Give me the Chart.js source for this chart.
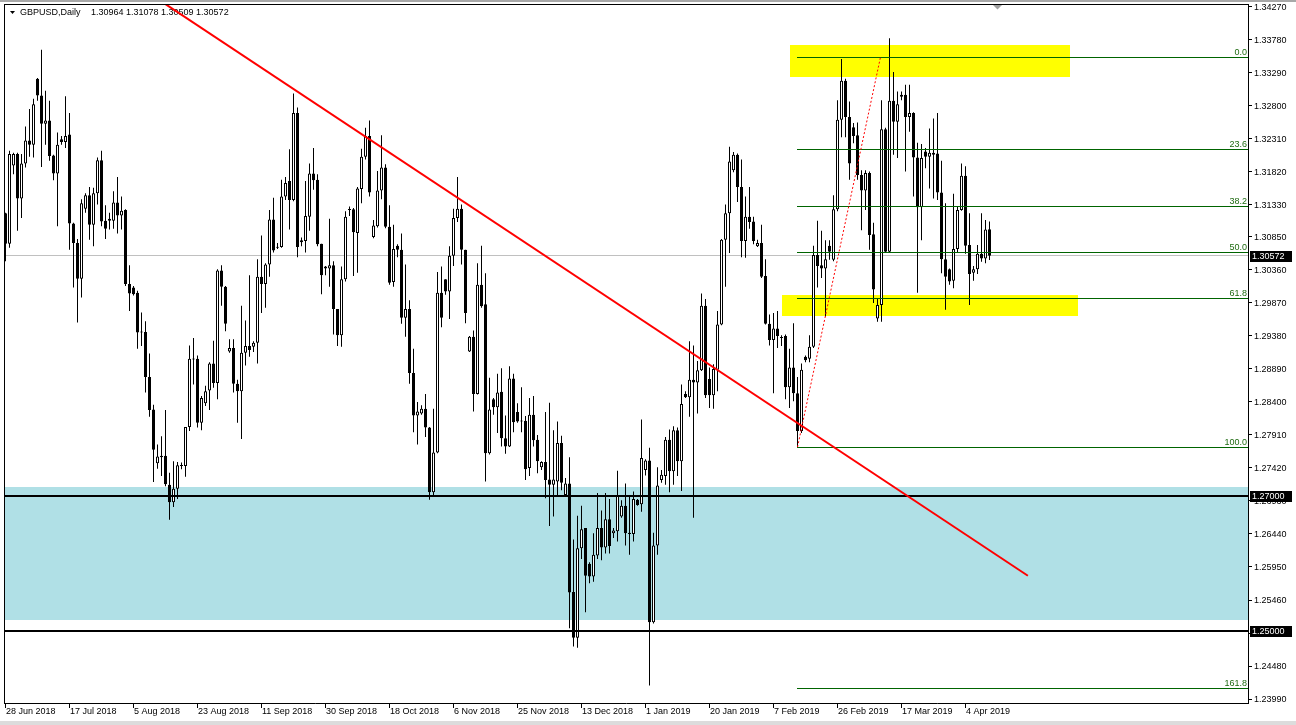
<!DOCTYPE html>
<html>
<head>
<meta charset="utf-8">
<title>GBPUSD,Daily</title>
<script src="https://cdn.jsdelivr.net/npm/chart.js@4.4.1/dist/chart.umd.min.js"></script>
<style>
html,body{margin:0;padding:0;background:#fff;}
#wrap{width:1296px;height:725px;position:relative;}
</style>
</head>
<body>
<div id="wrap"><canvas id="chart"></canvas></div>
<script>
// Daily candles, 28 Jun 2018 .. 10 Apr 2019 (one bar per trading day incl. Sunday bars)
const opens = [
  1.3120,1.3075,1.3191,1.3208,1.3142,1.3194,1.3228,1.3222,1.3320,1.3295,
  1.3253,1.3258,1.3206,1.3179,1.3230,1.3226,1.3237,1.3105,1.3076,1.3023,
  1.3127,1.3147,1.3103,1.3150,1.3199,1.3109,1.3112,1.3109,1.3136,1.3117,
  1.3125,1.3015,1.3010,1.3002,1.2944,1.2944,1.2877,1.2829,1.2749,1.2760,
  1.2760,1.2717,1.2691,1.2711,1.2745,1.2745,1.2803,1.2904,1.2904,1.2809,
  1.2838,1.2857,1.2897,1.2868,1.3035,1.3011,1.2915,1.2920,1.2867,1.2856,
  1.2913,1.2923,1.2922,1.2928,1.3026,1.3015,1.3044,1.3111,1.3070,1.3070,
  1.3145,1.3168,1.3140,1.3269,1.3080,1.3079,1.3115,1.3179,1.3170,1.3075,
  1.3041,1.3038,1.3043,1.2978,1.2939,1.3022,1.3125,1.3126,1.3091,1.3156,
  1.3204,1.3235,1.3085,1.3101,1.3154,1.3188,1.3100,1.3018,1.3072,1.3066,
  1.2965,1.2978,1.2883,1.2820,1.2823,1.2830,1.2802,1.2706,1.2765,1.3002,
  1.3022,1.3004,1.3057,1.3113,1.3127,1.3066,1.2915,1.2937,1.2852,1.3014,
  1.2985,1.2764,1.2844,1.2832,1.2855,1.2786,1.2774,1.2875,1.2825,1.2812,
  1.2812,1.2742,1.2821,1.2784,1.2743,1.2751,1.2725,1.2717,1.2722,1.2779,
  1.2702,1.2719,1.2558,1.2490,1.2623,1.2653,1.2600,1.2581,1.2612,1.2653,
  1.2624,1.2666,1.2645,1.2648,1.2670,1.2686,1.2646,1.2644,1.2695,1.2688,
  1.2739,1.2753,1.2513,1.2627,1.2724,1.2730,1.2784,1.2737,1.2798,1.2752,
  1.2852,1.2847,1.2873,1.2869,1.2887,1.2983,1.2874,1.2850,1.2888,1.2955,
  1.3081,1.3120,1.3184,1.3207,1.3159,1.3079,1.3115,1.3108,1.3071,1.3076,
  1.3027,1.2956,1.2932,1.2949,1.2936,1.2938,1.2862,1.2891,1.2853,1.2797,
  1.2907,1.2904,1.2922,1.3058,1.3043,1.3038,1.3072,1.3051,1.3126,1.3259,
  1.3317,1.3263,1.3248,1.3236,1.3177,1.3154,1.3180,1.3089,1.2964,1.2984,
  1.3245,1.3063,1.3287,1.3256,1.3296,1.3296,1.3263,1.3269,1.3203,1.3129,
  1.3212,1.3204,1.3210,1.3209,1.3151,1.3052,1.3037,1.3020,1.3067,1.3125,
  1.3176,1.3073,1.3032,1.3037,1.3060,1.3053,1.30964
];
const highs = [
  1.3121,1.3213,1.3210,1.3210,1.3208,1.3249,1.3275,1.3290,1.3321,1.3363,
  1.3302,1.3287,1.3207,1.3240,1.3235,1.3294,1.3269,1.3106,1.3082,1.3141,
  1.3150,1.3159,1.3158,1.3203,1.3213,1.3132,1.3121,1.3153,1.3174,1.3145,
  1.3126,1.3043,1.3012,1.3005,1.2973,1.2960,1.2912,1.2836,1.2777,1.2789,
  1.2828,1.2735,1.2752,1.2751,1.2750,1.2803,1.2924,1.2935,1.2909,1.2849,
  1.2864,1.2899,1.2931,1.3037,1.3043,1.3012,1.2933,1.2933,1.2873,1.2983,
  1.2961,1.3028,1.2930,1.3052,1.3087,1.3046,1.3125,1.3143,1.3076,1.3170,
  1.3174,1.3215,1.3298,1.3277,1.3084,1.3168,1.3194,1.3217,1.3178,1.3075,
  1.3042,1.3112,1.3049,1.2978,1.3041,1.3123,1.3130,1.3128,1.3159,1.3216,
  1.3247,1.3258,1.3110,1.3183,1.3236,1.3193,1.3132,1.3103,1.3074,1.3090,
  1.3044,1.2991,1.2919,1.2840,1.2835,1.2852,1.2803,1.2830,1.3033,1.3041,
  1.3022,1.3071,1.3127,1.3174,1.3133,1.3066,1.2938,1.2946,1.3046,1.3072,
  1.3031,1.2876,1.2846,1.2882,1.2890,1.2820,1.2893,1.2882,1.2838,1.2862,
  1.2819,1.2846,1.2849,1.2791,1.2752,1.2825,1.2839,1.2798,1.2811,1.2790,
  1.2727,1.2758,1.2636,1.2671,1.2686,1.2653,1.2602,1.2645,1.2705,1.2679,
  1.2705,1.2696,1.2653,1.2738,1.2694,1.2719,1.2701,1.2707,1.2696,1.2814,
  1.2755,1.2772,1.2646,1.2743,1.2739,1.2788,1.2799,1.2804,1.2802,1.2866,
  1.2856,1.2930,1.2924,1.2901,1.3001,1.2993,1.2891,1.2896,1.2975,1.3082,
  1.3133,1.3219,1.3211,1.3209,1.3200,1.3145,1.3159,1.3115,1.3081,1.3103,
  1.3052,1.2970,1.2972,1.2975,1.2939,1.2940,1.2919,1.2957,1.2877,1.2897,
  1.2909,1.2939,1.3072,1.3109,1.3094,1.3080,1.3080,1.3147,1.3288,1.3349,
  1.3320,1.3286,1.3254,1.3255,1.3184,1.3184,1.3182,1.3106,1.2994,1.3288,
  1.3247,1.3380,1.3330,1.3301,1.3301,1.3311,1.3311,1.3270,1.3225,1.3223,
  1.3217,1.3246,1.3261,1.3269,1.3198,1.3135,1.3038,1.3149,1.3130,1.3194,
  1.3190,1.3120,1.3042,1.3073,1.3120,1.3110,1.31078
];
const lows = [
  1.3049,1.3069,1.3178,1.3094,1.3113,1.3188,1.3204,1.3203,1.3287,1.3189,
  1.3222,1.3198,1.3169,1.3101,1.3222,1.3217,1.3066,1.3010,1.2958,1.2995,
  1.3121,1.3081,1.3071,1.3133,1.3101,1.3082,1.3096,1.3097,1.3090,1.3096,
  1.3012,1.2975,1.2998,1.2919,1.2923,1.2854,1.2818,1.2721,1.2741,1.2730,
  1.2715,1.2665,1.2684,1.2696,1.2740,1.2729,1.2797,1.2866,1.2802,1.2798,
  1.2834,1.2828,1.2861,1.2844,1.2983,1.2945,1.2913,1.2854,1.2809,1.2785,
  1.2894,1.2907,1.2914,1.2897,1.2972,1.2980,1.3026,1.3062,1.3067,1.3069,
  1.3140,1.3096,1.3138,1.3055,1.3071,1.3062,1.3094,1.3155,1.3071,1.3000,
  1.3028,1.3011,1.2940,1.2923,1.2922,1.3019,1.3116,1.3027,1.3032,1.3135,
  1.3200,1.3145,1.3083,1.3099,1.3141,1.3098,1.3014,1.3011,1.3055,1.2956,
  1.2937,1.2867,1.2795,1.2777,1.2821,1.2788,1.2695,1.2699,1.2764,1.2951,
  1.2999,1.2963,1.3042,1.3107,1.3044,1.2957,1.2914,1.2826,1.2851,1.2980,
  1.2722,1.2762,1.2821,1.2794,1.2774,1.2763,1.2773,1.2795,1.2809,1.2795,
  1.2724,1.2730,1.2774,1.2734,1.2739,1.2697,1.2656,1.2670,1.2699,1.2709,
  1.2701,1.2504,1.2477,1.2475,1.2607,1.2528,1.2571,1.2573,1.2607,1.2605,
  1.2615,1.2615,1.2638,1.2633,1.2668,1.2627,1.2613,1.2633,1.2686,1.2677,
  1.2731,1.2419,1.2511,1.2613,1.2720,1.2717,1.2706,1.2717,1.2730,1.2708,
  1.2846,1.2818,1.2668,1.2823,1.2886,1.2846,1.2831,1.2830,1.2856,1.2954,
  1.3011,1.3061,1.3181,1.3137,1.3055,1.3054,1.3097,1.3074,1.3070,1.3024,
  1.2955,1.2924,1.2853,1.2920,1.2923,1.2844,1.2831,1.2841,1.2773,1.2794,
  1.2899,1.2899,1.2920,1.3010,1.3024,1.2967,1.3051,1.3049,1.3123,1.3233,
  1.3233,1.3170,1.3224,1.3170,1.3095,1.3125,1.3066,1.2987,1.2959,1.2959,
  1.3061,1.3061,1.3207,1.3202,1.3288,1.3182,1.3241,1.3145,1.3002,1.3080,
  1.3187,1.3157,1.3142,1.3140,1.3031,1.2977,1.3014,1.3009,1.3061,1.3124,
  1.3060,1.2984,1.3020,1.3030,1.3048,1.3046,1.30509
];
const closes = [
  1.3075,1.3208,1.3208,1.3142,1.3194,1.3228,1.3222,1.3282,1.3295,1.3253,
  1.3258,1.3205,1.3179,1.3222,1.3226,1.3235,1.3105,1.3076,1.3023,1.3135,
  1.3147,1.3103,1.3150,1.3199,1.3108,1.3097,1.3109,1.3136,1.3117,1.3124,
  1.3015,1.3001,1.3000,1.2943,1.2943,1.2877,1.2828,1.2769,1.2759,1.2758,
  1.2718,1.2691,1.2711,1.2746,1.2746,1.2803,1.2904,1.2903,1.2809,1.2846,
  1.2856,1.2897,1.2868,1.3035,1.3011,1.2956,1.2920,1.2867,1.2856,1.2913,
  1.2923,1.2917,1.2928,1.3026,1.3015,1.3044,1.3111,1.3065,1.3069,1.3145,
  1.3165,1.3140,1.3269,1.3070,1.3077,1.3116,1.3179,1.3169,1.3074,1.3028,
  1.3038,1.3043,1.2978,1.2939,1.3022,1.3115,1.3126,1.3092,1.3157,1.3204,
  1.3235,1.3151,1.3102,1.3154,1.3188,1.3100,1.3017,1.3067,1.3066,1.2965,
  1.2978,1.2883,1.2820,1.2826,1.2830,1.2802,1.2706,1.2765,1.3002,1.2965,
  1.3004,1.3057,1.3113,1.3127,1.3066,1.2972,1.2937,1.2852,1.3014,1.2982,
  1.2764,1.2829,1.2832,1.2854,1.2786,1.2774,1.2875,1.2810,1.2811,1.2811,
  1.2740,1.2821,1.2783,1.2752,1.2751,1.2724,1.2717,1.2725,1.2779,1.2720,
  1.2719,1.2557,1.2490,1.2623,1.2651,1.2582,1.2581,1.2613,1.2653,1.2624,
  1.2666,1.2626,1.2649,1.2701,1.2686,1.2645,1.2644,1.2696,1.2687,1.2757,
  1.2753,1.2513,1.2627,1.2716,1.2732,1.2784,1.2737,1.2798,1.2752,1.2837,
  1.2847,1.2873,1.2869,1.2887,1.2983,1.2850,1.2850,1.2889,1.2955,1.3081,
  1.3120,1.3197,1.3207,1.3159,1.3079,1.3115,1.3107,1.3079,1.3076,1.3026,
  1.2956,1.2932,1.2949,1.2938,1.2935,1.2862,1.2891,1.2853,1.2797,1.2888,
  1.2902,1.2922,1.3058,1.3042,1.3038,1.3052,1.3063,1.3126,1.3259,1.3317,
  1.3263,1.3194,1.3235,1.3177,1.3154,1.3180,1.3088,1.3007,1.2984,1.3245,
  1.3063,1.3287,1.3256,1.3282,1.3293,1.3263,1.3269,1.3203,1.3129,1.3202,
  1.3204,1.3210,1.3207,1.3151,1.3052,1.3026,1.3019,1.3067,1.3125,1.3176,
  1.3072,1.3030,1.3037,1.3060,1.3053,1.3096,1.30572
];

// axis labels
const xTickLabels = ['28 Jun 2018','17 Jul 2018','5 Aug 2018','23 Aug 2018','11 Sep 2018','30 Sep 2018',
  '18 Oct 2018','6 Nov 2018','25 Nov 2018','13 Dec 2018','1 Jan 2019','20 Jan 2019',
  '7 Feb 2019','26 Feb 2019','17 Mar 2019','4 Apr 2019'];
const xTickStep = 16; // bars between date labels
const yTickLabels = ['1.34270','1.33780','1.33290','1.32800','1.32310','1.31820','1.31330','1.30850',
  '1.30360','1.29870','1.29380','1.28890','1.28400','1.27910','1.27420','1.26930','1.26440',
  '1.25950','1.25460','1.24970','1.24480','1.23990'];

// drawings on the chart (bar index / price)
const symbol = 'GBPUSD,Daily';
const lastPrice = 1.30572;
const levelLines = [1.27000, 1.25000];
const supportZone = [1.2517, 1.2714];
const supplyBox = {from: 196, to: 266, low: 1.3323, high: 1.3370};
const demandBox = {from: 194, to: 268, low: 1.2968, high: 1.2999};
const fibLevels = [0, 23.6, 38.2, 50, 61.8, 100, 161.8];
const fibHigh = 1.3352, fibLow = 1.2773, fibFrom = 198, fibTo = 218.75;
const trendLine = [[39.9, 1.3431], [255.6, 1.2582]];

const FONT = '9px "Liberation Sans", Arial, sans-serif';
const snap = v => Math.round(v) + 0.5;

function seg(ctx, x1, y1, x2, y2){
  ctx.beginPath(); ctx.moveTo(x1, y1); ctx.lineTo(x2, y2); ctx.stroke();
}

function priceBox(ctx, y, text){
  ctx.fillStyle = '#000';
  ctx.fillRect(1250, Math.round(y) - 5, 42, 11);
  ctx.fillStyle = '#fff';
  ctx.textAlign = 'left'; ctx.textBaseline = 'middle';
  ctx.fillText(text, 1252, Math.round(y) + 0.5);
}

const mt4 = {
  id: 'mt4',
  beforeDatasetsDraw(chart){
    const {ctx, chartArea: a, scales: {x, y}} = chart;
    ctx.save();
    ctx.beginPath(); ctx.rect(a.left, a.top, a.right - a.left, a.bottom - a.top); ctx.clip();

    // blue support zone
    const zt = Math.round(y.getPixelForValue(supportZone[1]));
    const zb = Math.round(y.getPixelForValue(supportZone[0]));
    ctx.fillStyle = '#b0e0e6';
    ctx.fillRect(a.left, zt, a.right - a.left, zb - zt);

    // yellow boxes
    ctx.fillStyle = '#ffff00';
    [supplyBox, demandBox].forEach(b => {
      const l = Math.round(x.getPixelForValue(b.from)), r = Math.round(x.getPixelForValue(b.to));
      const t = Math.round(y.getPixelForValue(b.high)), bt = Math.round(y.getPixelForValue(b.low));
      ctx.fillRect(l, t, r - l, bt - t);
    });

    // bid line
    ctx.strokeStyle = '#c0c0c0'; ctx.lineWidth = 1;
    const by = snap(y.getPixelForValue(lastPrice) - 0.5);
    seg(ctx, a.left, by, a.right, by);
    ctx.restore();
  },
  afterDatasetsDraw(chart){
    const {ctx, chartArea: a, scales: {x, y}} = chart;
    ctx.save();
    ctx.beginPath(); ctx.rect(a.left, a.top, a.right - a.left, a.bottom - a.top); ctx.clip();

    // horizontal levels
    ctx.fillStyle = '#000';
    levelLines.forEach(p => {
      const py = Math.round(y.getPixelForValue(p));
      ctx.fillRect(a.left, py - 1, a.right - a.left, 2);
    });

    // fibonacci
    ctx.strokeStyle = '#006400'; ctx.lineWidth = 1;
    ctx.font = FONT; ctx.fillStyle = '#1f6b12';
    ctx.textAlign = 'right'; ctx.textBaseline = 'alphabetic';
    const fx = Math.round(x.getPixelForValue(fibFrom)) - 1;
    fibLevels.forEach(lv => {
      const p = fibHigh - (fibHigh - fibLow) * lv / 100;
      const py = snap(y.getPixelForValue(p) - 0.5);
      seg(ctx, fx, py, a.right, py);
      ctx.fillText(lv.toFixed(1), a.right - 1, py - 2.5);
    });

    // title
    ctx.fillStyle = '#000';
    ctx.beginPath(); ctx.moveTo(10, 11); ctx.lineTo(15, 11); ctx.lineTo(12.5, 14); ctx.closePath(); ctx.fill();
    ctx.textAlign = 'left'; ctx.textBaseline = 'middle';
    ctx.fillText(symbol, 20, 13);
    const last = closes.length - 1;
    ctx.fillText([opens[last], highs[last], lows[last], closes[last]].map(v => v.toFixed(5)).join(' '), 91, 13);

    // red trend line
    ctx.strokeStyle = '#ff0000'; ctx.lineWidth = 2;
    seg(ctx, x.getPixelForValue(trendLine[0][0]), y.getPixelForValue(trendLine[0][1]),
             x.getPixelForValue(trendLine[1][0]), y.getPixelForValue(trendLine[1][1]));

    // fib trend (dotted)
    ctx.lineWidth = 1; ctx.setLineDash([2, 2]);
    seg(ctx, x.getPixelForValue(fibFrom), y.getPixelForValue(fibLow),
             x.getPixelForValue(fibTo), y.getPixelForValue(fibHigh));
    ctx.setLineDash([]);
    ctx.restore();

    // window edges + frame
    ctx.save();
    ctx.fillStyle = '#a8a8a8'; ctx.fillRect(0, 0, 1296, 2);
    ctx.fillStyle = '#dcdcdc'; ctx.fillRect(0, 721, 1296, 4);
    ctx.strokeStyle = '#000'; ctx.lineWidth = 1;
    seg(ctx, a.left, a.top + 0.5, a.right, a.top + 0.5);
    seg(ctx, a.left + 0.5, a.top, a.left + 0.5, a.bottom + 1);
    seg(ctx, a.left, a.bottom + 0.5, a.right + 1, a.bottom + 0.5);
    seg(ctx, a.right + 0.5, a.top, a.right + 0.5, a.bottom + 1);

    // shift marker
    ctx.fillStyle = '#a0a0a0';
    ctx.beginPath(); ctx.moveTo(993, 5); ctx.lineTo(1002, 5); ctx.lineTo(997.5, 9.5); ctx.closePath(); ctx.fill();

    // y axis
    ctx.font = FONT; ctx.fillStyle = '#000';
    ctx.textAlign = 'left'; ctx.textBaseline = 'middle';
    yTickLabels.forEach(t => {
      const py = y.getPixelForValue(parseFloat(t));
      seg(ctx, a.right, snap(py - 0.5), a.right + 4, snap(py - 0.5));
      ctx.fillText(t, a.right + 6, Math.round(py) + 0.5);
    });

    // x axis
    xTickLabels.forEach((t, k) => {
      const px = Math.floor(x.getPixelForValue(k * xTickStep)) + 0.5;
      seg(ctx, px, a.bottom, px, a.bottom + 5);
      ctx.fillText(t, px + 0.5, 712);
    });

    // price tags
    levelLines.forEach(p => priceBox(ctx, y.getPixelForValue(p), p.toFixed(5)));
    priceBox(ctx, y.getPixelForValue(lastPrice), lastPrice.toFixed(5));
    ctx.restore();
  }
};

const idx = closes.map((c, i) => i);

new Chart(document.getElementById('chart'), {
  type: 'bar',
  data: {
    datasets: [
      {
        label: 'body',
        data: idx.map(i => ({x: i, y: [opens[i], closes[i]]})),
        grouped: false,
        categoryPercentage: 1, barPercentage: 0.75, maxBarThickness: 3,
        minBarLength: 1, inflateAmount: 0,
        borderWidth: 1, borderSkipped: false, borderColor: '#000',
        backgroundColor: c => closes[c.dataIndex] >= opens[c.dataIndex] ? '#ffffff' : '#000000'
      },
      {
        label: 'wick',
        data: idx.map(i => ({x: i, y: [lows[i], highs[i]]})),
        grouped: false,
        categoryPercentage: 1, barPercentage: 0.25, maxBarThickness: 1,
        minBarLength: 1, inflateAmount: 0,
        borderWidth: 0, backgroundColor: '#000'
      }
    ]
  },
  options: {
    responsive: true, maintainAspectRatio: false, animation: false, events: [],
    layout: {padding: {left: 4, top: 4, right: 48, bottom: 22}},
    plugins: {legend: {display: false}, tooltip: {enabled: false}},
    scales: {
      x: {type: 'linear', display: false, offset: false, min: -0.375, max: 310.625},
      y: {type: 'linear', display: false, beginAtZero: false, min: 1.23931, max: 1.34308}
    }
  },
  plugins: [mt4]
});
</script>
</body>
</html>
